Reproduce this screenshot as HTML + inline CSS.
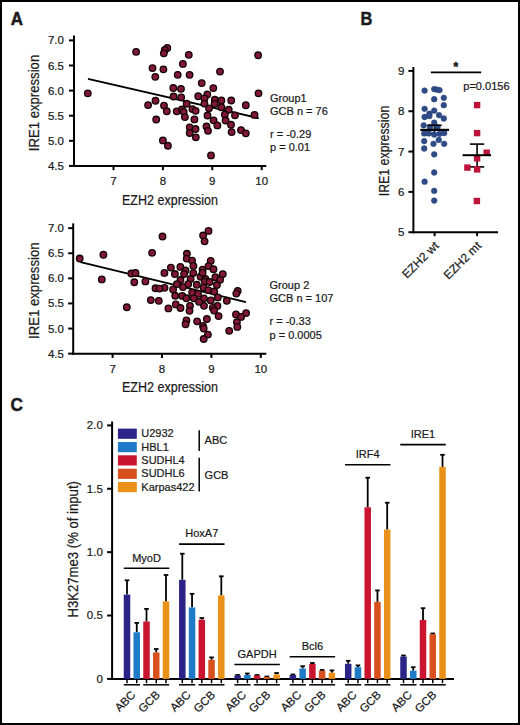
<!DOCTYPE html>
<html><head><meta charset="utf-8"><style>
html,body{margin:0;padding:0;background:#fff;}
svg{display:block;font-family:"Liberation Sans", sans-serif;}
text{stroke:#1a1a1a;stroke-width:0.22px;}
text[font-weight=bold]{stroke-width:0.5px;}
</style></head><body>
<svg width="520" height="725" viewBox="0 0 520 725">
<rect x="0" y="0" width="520" height="725" fill="#fff"/>
<text x="10.8" y="25.2" font-size="18" text-anchor="start" font-weight="bold" fill="#1a1a1a" textLength="12.2" lengthAdjust="spacingAndGlyphs" >A</text>
<text x="360.6" y="25.2" font-size="18" text-anchor="start" font-weight="bold" fill="#1a1a1a" textLength="11.8" lengthAdjust="spacingAndGlyphs" >B</text>
<text x="10.6" y="411" font-size="18" text-anchor="start" font-weight="bold" fill="#1a1a1a" textLength="12.4" lengthAdjust="spacingAndGlyphs" >C</text>
<line x1="74.00" y1="35.60" x2="74.00" y2="166.90" stroke="#000" stroke-width="2.0"/>
<line x1="69.00" y1="40.40" x2="74.00" y2="40.40" stroke="#000" stroke-width="2.0"/>
<text x="63.9" y="44.4" font-size="11.5" text-anchor="end" font-weight="normal" fill="#1a1a1a" >7.0</text>
<line x1="69.00" y1="65.50" x2="74.00" y2="65.50" stroke="#000" stroke-width="2.0"/>
<text x="63.9" y="69.5" font-size="11.5" text-anchor="end" font-weight="normal" fill="#1a1a1a" >6.5</text>
<line x1="69.00" y1="90.60" x2="74.00" y2="90.60" stroke="#000" stroke-width="2.0"/>
<text x="63.9" y="94.6" font-size="11.5" text-anchor="end" font-weight="normal" fill="#1a1a1a" >6.0</text>
<line x1="69.00" y1="115.70" x2="74.00" y2="115.70" stroke="#000" stroke-width="2.0"/>
<text x="63.9" y="119.7" font-size="11.5" text-anchor="end" font-weight="normal" fill="#1a1a1a" >5.5</text>
<line x1="69.00" y1="140.80" x2="74.00" y2="140.80" stroke="#000" stroke-width="2.0"/>
<text x="63.9" y="144.8" font-size="11.5" text-anchor="end" font-weight="normal" fill="#1a1a1a" >5.0</text>
<line x1="69.00" y1="165.90" x2="74.00" y2="165.90" stroke="#000" stroke-width="2.0"/>
<text x="63.9" y="169.9" font-size="11.5" text-anchor="end" font-weight="normal" fill="#1a1a1a" >4.5</text>
<line x1="73.00" y1="165.90" x2="266.30" y2="165.90" stroke="#000" stroke-width="2.0"/>
<line x1="113.50" y1="165.90" x2="113.50" y2="170.20" stroke="#000" stroke-width="2.0"/>
<text x="113.5" y="184.8" font-size="11.5" text-anchor="middle" font-weight="normal" fill="#1a1a1a" >7</text>
<line x1="162.90" y1="165.90" x2="162.90" y2="170.20" stroke="#000" stroke-width="2.0"/>
<text x="162.9" y="184.8" font-size="11.5" text-anchor="middle" font-weight="normal" fill="#1a1a1a" >8</text>
<line x1="212.30" y1="165.90" x2="212.30" y2="170.20" stroke="#000" stroke-width="2.0"/>
<text x="212.3" y="184.8" font-size="11.5" text-anchor="middle" font-weight="normal" fill="#1a1a1a" >9</text>
<line x1="261.70" y1="165.90" x2="261.70" y2="170.20" stroke="#000" stroke-width="2.0"/>
<text x="261.7" y="184.8" font-size="11.5" text-anchor="middle" font-weight="normal" fill="#1a1a1a" >10</text>
<text x="170" y="204.6" font-size="14" text-anchor="middle" font-weight="normal" fill="#1a1a1a" textLength="96" lengthAdjust="spacingAndGlyphs" >EZH2 expression</text>
<text transform="translate(39.30,103.00) rotate(-90)" font-size="14" text-anchor="middle" fill="#1a1a1a" textLength="96.5" lengthAdjust="spacingAndGlyphs">IRE1 expression</text>
<line x1="88.00" y1="78.90" x2="258.70" y2="118.20" stroke="#000" stroke-width="2"/>
<circle cx="87.8" cy="93.3" r="3.25" fill="#821739" stroke="#150508" stroke-width="1.35"/>
<circle cx="136.1" cy="51.8" r="3.25" fill="#821739" stroke="#150508" stroke-width="1.35"/>
<circle cx="167.3" cy="47.9" r="3.25" fill="#821739" stroke="#150508" stroke-width="1.35"/>
<circle cx="164.8" cy="50.0" r="3.25" fill="#821739" stroke="#150508" stroke-width="1.35"/>
<circle cx="163.8" cy="53.3" r="3.25" fill="#821739" stroke="#150508" stroke-width="1.35"/>
<circle cx="152.5" cy="68.1" r="3.25" fill="#821739" stroke="#150508" stroke-width="1.35"/>
<circle cx="163.4" cy="69.3" r="3.25" fill="#821739" stroke="#150508" stroke-width="1.35"/>
<circle cx="155.3" cy="76.8" r="3.25" fill="#821739" stroke="#150508" stroke-width="1.35"/>
<circle cx="188.8" cy="54.8" r="3.25" fill="#821739" stroke="#150508" stroke-width="1.35"/>
<circle cx="258.1" cy="55.2" r="3.25" fill="#821739" stroke="#150508" stroke-width="1.35"/>
<circle cx="182.9" cy="63.9" r="3.25" fill="#821739" stroke="#150508" stroke-width="1.35"/>
<circle cx="220.0" cy="71.6" r="3.25" fill="#821739" stroke="#150508" stroke-width="1.35"/>
<circle cx="177.7" cy="74.8" r="3.25" fill="#821739" stroke="#150508" stroke-width="1.35"/>
<circle cx="189.6" cy="74.8" r="3.25" fill="#821739" stroke="#150508" stroke-width="1.35"/>
<circle cx="201.7" cy="83.1" r="3.25" fill="#821739" stroke="#150508" stroke-width="1.35"/>
<circle cx="173.3" cy="88.0" r="3.25" fill="#821739" stroke="#150508" stroke-width="1.35"/>
<circle cx="181.0" cy="88.8" r="3.25" fill="#821739" stroke="#150508" stroke-width="1.35"/>
<circle cx="213.3" cy="88.1" r="3.25" fill="#821739" stroke="#150508" stroke-width="1.35"/>
<circle cx="258.5" cy="93.3" r="3.25" fill="#821739" stroke="#150508" stroke-width="1.35"/>
<circle cx="173.6" cy="96.5" r="3.25" fill="#821739" stroke="#150508" stroke-width="1.35"/>
<circle cx="181.2" cy="97.3" r="3.25" fill="#821739" stroke="#150508" stroke-width="1.35"/>
<circle cx="198.2" cy="96.2" r="3.25" fill="#821739" stroke="#150508" stroke-width="1.35"/>
<circle cx="207.3" cy="94.5" r="3.25" fill="#821739" stroke="#150508" stroke-width="1.35"/>
<circle cx="204.5" cy="98.4" r="3.25" fill="#821739" stroke="#150508" stroke-width="1.35"/>
<circle cx="214.8" cy="99.7" r="3.25" fill="#821739" stroke="#150508" stroke-width="1.35"/>
<circle cx="221.4" cy="100.5" r="3.25" fill="#821739" stroke="#150508" stroke-width="1.35"/>
<circle cx="231.2" cy="100.5" r="3.25" fill="#821739" stroke="#150508" stroke-width="1.35"/>
<circle cx="245.8" cy="105.2" r="3.25" fill="#821739" stroke="#150508" stroke-width="1.35"/>
<circle cx="186.7" cy="103.7" r="3.25" fill="#821739" stroke="#150508" stroke-width="1.35"/>
<circle cx="214.6" cy="103.8" r="3.25" fill="#821739" stroke="#150508" stroke-width="1.35"/>
<circle cx="164.0" cy="105.6" r="3.25" fill="#821739" stroke="#150508" stroke-width="1.35"/>
<circle cx="148.1" cy="105.1" r="3.25" fill="#821739" stroke="#150508" stroke-width="1.35"/>
<circle cx="155.5" cy="100.7" r="3.25" fill="#821739" stroke="#150508" stroke-width="1.35"/>
<circle cx="166.8" cy="111.2" r="3.25" fill="#821739" stroke="#150508" stroke-width="1.35"/>
<circle cx="176.7" cy="111.3" r="3.25" fill="#821739" stroke="#150508" stroke-width="1.35"/>
<circle cx="182.0" cy="109.5" r="3.25" fill="#821739" stroke="#150508" stroke-width="1.35"/>
<circle cx="183.7" cy="111.8" r="3.25" fill="#821739" stroke="#150508" stroke-width="1.35"/>
<circle cx="192.4" cy="109.1" r="3.25" fill="#821739" stroke="#150508" stroke-width="1.35"/>
<circle cx="195.6" cy="110.8" r="3.25" fill="#821739" stroke="#150508" stroke-width="1.35"/>
<circle cx="209.0" cy="108.3" r="3.25" fill="#821739" stroke="#150508" stroke-width="1.35"/>
<circle cx="221.4" cy="107.2" r="3.25" fill="#821739" stroke="#150508" stroke-width="1.35"/>
<circle cx="228.7" cy="109.7" r="3.25" fill="#821739" stroke="#150508" stroke-width="1.35"/>
<circle cx="184.9" cy="117.1" r="3.25" fill="#821739" stroke="#150508" stroke-width="1.35"/>
<circle cx="194.4" cy="119.4" r="3.25" fill="#821739" stroke="#150508" stroke-width="1.35"/>
<circle cx="207.5" cy="115.5" r="3.25" fill="#821739" stroke="#150508" stroke-width="1.35"/>
<circle cx="224.8" cy="114.6" r="3.25" fill="#821739" stroke="#150508" stroke-width="1.35"/>
<circle cx="235.0" cy="115.3" r="3.25" fill="#821739" stroke="#150508" stroke-width="1.35"/>
<circle cx="254.5" cy="114.9" r="3.25" fill="#821739" stroke="#150508" stroke-width="1.35"/>
<circle cx="213.6" cy="120.3" r="3.25" fill="#821739" stroke="#150508" stroke-width="1.35"/>
<circle cx="225.6" cy="120.5" r="3.25" fill="#821739" stroke="#150508" stroke-width="1.35"/>
<circle cx="156.2" cy="119.5" r="3.25" fill="#821739" stroke="#150508" stroke-width="1.35"/>
<circle cx="189.7" cy="127.3" r="3.25" fill="#821739" stroke="#150508" stroke-width="1.35"/>
<circle cx="195.5" cy="129.0" r="3.25" fill="#821739" stroke="#150508" stroke-width="1.35"/>
<circle cx="189.7" cy="133.0" r="3.25" fill="#821739" stroke="#150508" stroke-width="1.35"/>
<circle cx="195.8" cy="137.3" r="3.25" fill="#821739" stroke="#150508" stroke-width="1.35"/>
<circle cx="206.5" cy="126.5" r="3.25" fill="#821739" stroke="#150508" stroke-width="1.35"/>
<circle cx="208.0" cy="130.8" r="3.25" fill="#821739" stroke="#150508" stroke-width="1.35"/>
<circle cx="217.4" cy="125.4" r="3.25" fill="#821739" stroke="#150508" stroke-width="1.35"/>
<circle cx="231.0" cy="124.7" r="3.25" fill="#821739" stroke="#150508" stroke-width="1.35"/>
<circle cx="231.6" cy="132.1" r="3.25" fill="#821739" stroke="#150508" stroke-width="1.35"/>
<circle cx="241.0" cy="130.1" r="3.25" fill="#821739" stroke="#150508" stroke-width="1.35"/>
<circle cx="245.8" cy="133.3" r="3.25" fill="#821739" stroke="#150508" stroke-width="1.35"/>
<circle cx="162.9" cy="140.4" r="3.25" fill="#821739" stroke="#150508" stroke-width="1.35"/>
<circle cx="167.9" cy="145.7" r="3.25" fill="#821739" stroke="#150508" stroke-width="1.35"/>
<circle cx="211.0" cy="155.4" r="3.25" fill="#821739" stroke="#150508" stroke-width="1.35"/>
<circle cx="204.4" cy="103.6" r="3.25" fill="#821739" stroke="#150508" stroke-width="1.35"/>
<line x1="73.20" y1="223.35" x2="73.20" y2="354.65" stroke="#000" stroke-width="2.0"/>
<line x1="68.20" y1="228.15" x2="73.20" y2="228.15" stroke="#000" stroke-width="2.0"/>
<text x="63.9" y="232.1" font-size="11.5" text-anchor="end" font-weight="normal" fill="#1a1a1a" >7.0</text>
<line x1="68.20" y1="253.25" x2="73.20" y2="253.25" stroke="#000" stroke-width="2.0"/>
<text x="63.9" y="257.2" font-size="11.5" text-anchor="end" font-weight="normal" fill="#1a1a1a" >6.5</text>
<line x1="68.20" y1="278.35" x2="73.20" y2="278.35" stroke="#000" stroke-width="2.0"/>
<text x="63.9" y="282.3" font-size="11.5" text-anchor="end" font-weight="normal" fill="#1a1a1a" >6.0</text>
<line x1="68.20" y1="303.45" x2="73.20" y2="303.45" stroke="#000" stroke-width="2.0"/>
<text x="63.9" y="307.4" font-size="11.5" text-anchor="end" font-weight="normal" fill="#1a1a1a" >5.5</text>
<line x1="68.20" y1="328.55" x2="73.20" y2="328.55" stroke="#000" stroke-width="2.0"/>
<text x="63.9" y="332.5" font-size="11.5" text-anchor="end" font-weight="normal" fill="#1a1a1a" >5.0</text>
<line x1="68.20" y1="353.65" x2="73.20" y2="353.65" stroke="#000" stroke-width="2.0"/>
<text x="63.9" y="357.6" font-size="11.5" text-anchor="end" font-weight="normal" fill="#1a1a1a" >4.5</text>
<line x1="72.20" y1="353.65" x2="266.30" y2="353.65" stroke="#000" stroke-width="2.0"/>
<line x1="112.60" y1="353.65" x2="112.60" y2="357.95" stroke="#000" stroke-width="2.0"/>
<text x="112.6" y="372.5" font-size="11.5" text-anchor="middle" font-weight="normal" fill="#1a1a1a" >7</text>
<line x1="162.00" y1="353.65" x2="162.00" y2="357.95" stroke="#000" stroke-width="2.0"/>
<text x="162.0" y="372.5" font-size="11.5" text-anchor="middle" font-weight="normal" fill="#1a1a1a" >8</text>
<line x1="211.40" y1="353.65" x2="211.40" y2="357.95" stroke="#000" stroke-width="2.0"/>
<text x="211.4" y="372.5" font-size="11.5" text-anchor="middle" font-weight="normal" fill="#1a1a1a" >9</text>
<line x1="260.80" y1="353.65" x2="260.80" y2="357.95" stroke="#000" stroke-width="2.0"/>
<text x="260.8" y="372.5" font-size="11.5" text-anchor="middle" font-weight="normal" fill="#1a1a1a" >10</text>
<text x="170" y="392.3" font-size="14" text-anchor="middle" font-weight="normal" fill="#1a1a1a" textLength="96" lengthAdjust="spacingAndGlyphs" >EZH2 expression</text>
<text transform="translate(39.30,290.70) rotate(-90)" font-size="14" text-anchor="middle" fill="#1a1a1a" textLength="96.5" lengthAdjust="spacingAndGlyphs">IRE1 expression</text>
<line x1="80.50" y1="262.10" x2="246.00" y2="302.10" stroke="#000" stroke-width="2"/>
<circle cx="79.7" cy="258.5" r="3.25" fill="#821739" stroke="#150508" stroke-width="1.35"/>
<circle cx="103.4" cy="254.7" r="3.25" fill="#821739" stroke="#150508" stroke-width="1.35"/>
<circle cx="162.5" cy="236.5" r="3.25" fill="#821739" stroke="#150508" stroke-width="1.35"/>
<circle cx="152.1" cy="252.8" r="3.25" fill="#821739" stroke="#150508" stroke-width="1.35"/>
<circle cx="101.8" cy="279.4" r="3.25" fill="#821739" stroke="#150508" stroke-width="1.35"/>
<circle cx="131.3" cy="273.5" r="3.25" fill="#821739" stroke="#150508" stroke-width="1.35"/>
<circle cx="135.5" cy="273.0" r="3.25" fill="#821739" stroke="#150508" stroke-width="1.35"/>
<circle cx="134.3" cy="282.2" r="3.25" fill="#821739" stroke="#150508" stroke-width="1.35"/>
<circle cx="145.4" cy="281.4" r="3.25" fill="#821739" stroke="#150508" stroke-width="1.35"/>
<circle cx="164.4" cy="272.9" r="3.25" fill="#821739" stroke="#150508" stroke-width="1.35"/>
<circle cx="170.9" cy="267.6" r="3.25" fill="#821739" stroke="#150508" stroke-width="1.35"/>
<circle cx="155.5" cy="288.2" r="3.25" fill="#821739" stroke="#150508" stroke-width="1.35"/>
<circle cx="164.5" cy="287.8" r="3.25" fill="#821739" stroke="#150508" stroke-width="1.35"/>
<circle cx="208.5" cy="230.9" r="3.25" fill="#821739" stroke="#150508" stroke-width="1.35"/>
<circle cx="203.1" cy="235.5" r="3.25" fill="#821739" stroke="#150508" stroke-width="1.35"/>
<circle cx="204.6" cy="241.3" r="3.25" fill="#821739" stroke="#150508" stroke-width="1.35"/>
<circle cx="186.9" cy="253.7" r="3.25" fill="#821739" stroke="#150508" stroke-width="1.35"/>
<circle cx="186.7" cy="258.6" r="3.25" fill="#821739" stroke="#150508" stroke-width="1.35"/>
<circle cx="192.1" cy="260.6" r="3.25" fill="#821739" stroke="#150508" stroke-width="1.35"/>
<circle cx="193.4" cy="265.9" r="3.25" fill="#821739" stroke="#150508" stroke-width="1.35"/>
<circle cx="210.7" cy="260.9" r="3.25" fill="#821739" stroke="#150508" stroke-width="1.35"/>
<circle cx="208.5" cy="266.1" r="3.25" fill="#821739" stroke="#150508" stroke-width="1.35"/>
<circle cx="213.5" cy="269.2" r="3.25" fill="#821739" stroke="#150508" stroke-width="1.35"/>
<circle cx="180.4" cy="266.9" r="3.25" fill="#821739" stroke="#150508" stroke-width="1.35"/>
<circle cx="174.9" cy="274.0" r="3.25" fill="#821739" stroke="#150508" stroke-width="1.35"/>
<circle cx="185.5" cy="270.5" r="3.25" fill="#821739" stroke="#150508" stroke-width="1.35"/>
<circle cx="184.1" cy="274.1" r="3.25" fill="#821739" stroke="#150508" stroke-width="1.35"/>
<circle cx="193.3" cy="273.1" r="3.25" fill="#821739" stroke="#150508" stroke-width="1.35"/>
<circle cx="202.6" cy="269.6" r="3.25" fill="#821739" stroke="#150508" stroke-width="1.35"/>
<circle cx="200.6" cy="276.7" r="3.25" fill="#821739" stroke="#150508" stroke-width="1.35"/>
<circle cx="222.8" cy="274.1" r="3.25" fill="#821739" stroke="#150508" stroke-width="1.35"/>
<circle cx="215.4" cy="277.2" r="3.25" fill="#821739" stroke="#150508" stroke-width="1.35"/>
<circle cx="180.5" cy="280.0" r="3.25" fill="#821739" stroke="#150508" stroke-width="1.35"/>
<circle cx="190.6" cy="279.0" r="3.25" fill="#821739" stroke="#150508" stroke-width="1.35"/>
<circle cx="205.4" cy="278.9" r="3.25" fill="#821739" stroke="#150508" stroke-width="1.35"/>
<circle cx="220.1" cy="279.7" r="3.25" fill="#821739" stroke="#150508" stroke-width="1.35"/>
<circle cx="204.7" cy="281.5" r="3.25" fill="#821739" stroke="#150508" stroke-width="1.35"/>
<circle cx="209.6" cy="282.0" r="3.25" fill="#821739" stroke="#150508" stroke-width="1.35"/>
<circle cx="216.9" cy="285.0" r="3.25" fill="#821739" stroke="#150508" stroke-width="1.35"/>
<circle cx="203.6" cy="287.6" r="3.25" fill="#821739" stroke="#150508" stroke-width="1.35"/>
<circle cx="208.2" cy="290.1" r="3.25" fill="#821739" stroke="#150508" stroke-width="1.35"/>
<circle cx="214.2" cy="291.5" r="3.25" fill="#821739" stroke="#150508" stroke-width="1.35"/>
<circle cx="237.7" cy="291.0" r="3.25" fill="#821739" stroke="#150508" stroke-width="1.35"/>
<circle cx="236.3" cy="293.6" r="3.25" fill="#821739" stroke="#150508" stroke-width="1.35"/>
<circle cx="217.8" cy="297.4" r="3.25" fill="#821739" stroke="#150508" stroke-width="1.35"/>
<circle cx="203.9" cy="298.3" r="3.25" fill="#821739" stroke="#150508" stroke-width="1.35"/>
<circle cx="210.8" cy="300.4" r="3.25" fill="#821739" stroke="#150508" stroke-width="1.35"/>
<circle cx="226.8" cy="300.7" r="3.25" fill="#821739" stroke="#150508" stroke-width="1.35"/>
<circle cx="217.4" cy="305.9" r="3.25" fill="#821739" stroke="#150508" stroke-width="1.35"/>
<circle cx="204.0" cy="305.8" r="3.25" fill="#821739" stroke="#150508" stroke-width="1.35"/>
<circle cx="212.8" cy="307.8" r="3.25" fill="#821739" stroke="#150508" stroke-width="1.35"/>
<circle cx="214.1" cy="310.6" r="3.25" fill="#821739" stroke="#150508" stroke-width="1.35"/>
<circle cx="218.6" cy="316.1" r="3.25" fill="#821739" stroke="#150508" stroke-width="1.35"/>
<circle cx="206.9" cy="319.0" r="3.25" fill="#821739" stroke="#150508" stroke-width="1.35"/>
<circle cx="236.0" cy="314.4" r="3.25" fill="#821739" stroke="#150508" stroke-width="1.35"/>
<circle cx="241.1" cy="316.9" r="3.25" fill="#821739" stroke="#150508" stroke-width="1.35"/>
<circle cx="246.1" cy="313.1" r="3.25" fill="#821739" stroke="#150508" stroke-width="1.35"/>
<circle cx="202.6" cy="272.7" r="3.25" fill="#821739" stroke="#150508" stroke-width="1.35"/>
<circle cx="188.2" cy="284.1" r="3.25" fill="#821739" stroke="#150508" stroke-width="1.35"/>
<circle cx="196.8" cy="284.7" r="3.25" fill="#821739" stroke="#150508" stroke-width="1.35"/>
<circle cx="159.5" cy="288.6" r="3.25" fill="#821739" stroke="#150508" stroke-width="1.35"/>
<circle cx="173.1" cy="289.4" r="3.25" fill="#821739" stroke="#150508" stroke-width="1.35"/>
<circle cx="182.9" cy="287.1" r="3.25" fill="#821739" stroke="#150508" stroke-width="1.35"/>
<circle cx="192.1" cy="292.6" r="3.25" fill="#821739" stroke="#150508" stroke-width="1.35"/>
<circle cx="198.0" cy="293.9" r="3.25" fill="#821739" stroke="#150508" stroke-width="1.35"/>
<circle cx="175.2" cy="295.7" r="3.25" fill="#821739" stroke="#150508" stroke-width="1.35"/>
<circle cx="182.3" cy="295.9" r="3.25" fill="#821739" stroke="#150508" stroke-width="1.35"/>
<circle cx="186.4" cy="298.2" r="3.25" fill="#821739" stroke="#150508" stroke-width="1.35"/>
<circle cx="193.8" cy="298.3" r="3.25" fill="#821739" stroke="#150508" stroke-width="1.35"/>
<circle cx="150.8" cy="300.1" r="3.25" fill="#821739" stroke="#150508" stroke-width="1.35"/>
<circle cx="158.8" cy="300.8" r="3.25" fill="#821739" stroke="#150508" stroke-width="1.35"/>
<circle cx="175.8" cy="304.4" r="3.25" fill="#821739" stroke="#150508" stroke-width="1.35"/>
<circle cx="180.5" cy="308.0" r="3.25" fill="#821739" stroke="#150508" stroke-width="1.35"/>
<circle cx="190.0" cy="305.8" r="3.25" fill="#821739" stroke="#150508" stroke-width="1.35"/>
<circle cx="199.0" cy="301.8" r="3.25" fill="#821739" stroke="#150508" stroke-width="1.35"/>
<circle cx="168.4" cy="308.4" r="3.25" fill="#821739" stroke="#150508" stroke-width="1.35"/>
<circle cx="189.5" cy="310.8" r="3.25" fill="#821739" stroke="#150508" stroke-width="1.35"/>
<circle cx="186.4" cy="320.4" r="3.25" fill="#821739" stroke="#150508" stroke-width="1.35"/>
<circle cx="185.6" cy="324.2" r="3.25" fill="#821739" stroke="#150508" stroke-width="1.35"/>
<circle cx="197.1" cy="321.3" r="3.25" fill="#821739" stroke="#150508" stroke-width="1.35"/>
<circle cx="203.0" cy="325.9" r="3.25" fill="#821739" stroke="#150508" stroke-width="1.35"/>
<circle cx="203.7" cy="328.5" r="3.25" fill="#821739" stroke="#150508" stroke-width="1.35"/>
<circle cx="207.9" cy="334.6" r="3.25" fill="#821739" stroke="#150508" stroke-width="1.35"/>
<circle cx="203.7" cy="339.0" r="3.25" fill="#821739" stroke="#150508" stroke-width="1.35"/>
<circle cx="229.2" cy="330.8" r="3.25" fill="#821739" stroke="#150508" stroke-width="1.35"/>
<circle cx="236.9" cy="322.1" r="3.25" fill="#821739" stroke="#150508" stroke-width="1.35"/>
<circle cx="237.3" cy="326.9" r="3.25" fill="#821739" stroke="#150508" stroke-width="1.35"/>
<circle cx="176.9" cy="284.1" r="3.25" fill="#821739" stroke="#150508" stroke-width="1.35"/>
<circle cx="126.8" cy="307.2" r="3.25" fill="#821739" stroke="#150508" stroke-width="1.35"/>
<text x="270" y="101.7" font-size="11" text-anchor="start" font-weight="normal" fill="#1a1a1a" >Group1</text>
<text x="270" y="114.6" font-size="11" text-anchor="start" font-weight="normal" fill="#1a1a1a" >GCB n = 76</text>
<text x="270" y="137.7" font-size="11" text-anchor="start" font-weight="normal" fill="#1a1a1a" >r = -0.29</text>
<text x="270" y="150.6" font-size="11" text-anchor="start" font-weight="normal" fill="#1a1a1a" >p = 0.01</text>
<text x="269.5" y="288.8" font-size="11" text-anchor="start" font-weight="normal" fill="#1a1a1a" >Group 2</text>
<text x="269.5" y="301.9" font-size="11" text-anchor="start" font-weight="normal" fill="#1a1a1a" >GCB n = 107</text>
<text x="269.5" y="325.4" font-size="11" text-anchor="start" font-weight="normal" fill="#1a1a1a" >r = -0.33</text>
<text x="269.5" y="338.6" font-size="11" text-anchor="start" font-weight="normal" fill="#1a1a1a" >p = 0.0005</text>
<line x1="413.40" y1="67.00" x2="413.40" y2="233.20" stroke="#000" stroke-width="2.0"/>
<line x1="408.40" y1="70.90" x2="413.40" y2="70.90" stroke="#000" stroke-width="2.0"/>
<text x="404.5" y="74.9" font-size="11.5" text-anchor="end" font-weight="normal" fill="#1a1a1a" >9</text>
<line x1="408.40" y1="111.23" x2="413.40" y2="111.23" stroke="#000" stroke-width="2.0"/>
<text x="404.5" y="115.2" font-size="11.5" text-anchor="end" font-weight="normal" fill="#1a1a1a" >8</text>
<line x1="408.40" y1="151.56" x2="413.40" y2="151.56" stroke="#000" stroke-width="2.0"/>
<text x="404.5" y="155.6" font-size="11.5" text-anchor="end" font-weight="normal" fill="#1a1a1a" >7</text>
<line x1="408.40" y1="191.89" x2="413.40" y2="191.89" stroke="#000" stroke-width="2.0"/>
<text x="404.5" y="195.9" font-size="11.5" text-anchor="end" font-weight="normal" fill="#1a1a1a" >6</text>
<line x1="408.40" y1="232.22" x2="413.40" y2="232.22" stroke="#000" stroke-width="2.0"/>
<text x="404.5" y="236.2" font-size="11.5" text-anchor="end" font-weight="normal" fill="#1a1a1a" >5</text>
<line x1="412.40" y1="232.20" x2="498.00" y2="232.20" stroke="#000" stroke-width="2.0"/>
<line x1="434.60" y1="232.20" x2="434.60" y2="236.20" stroke="#000" stroke-width="2.0"/>
<line x1="477.10" y1="232.20" x2="477.10" y2="236.20" stroke="#000" stroke-width="2.0"/>
<text transform="translate(388.60,151.00) rotate(-90)" font-size="14" text-anchor="middle" fill="#1a1a1a" textLength="90.5" lengthAdjust="spacingAndGlyphs">IRE1 expression</text>
<text transform="translate(439.50,246.50) rotate(-45)" font-size="12" text-anchor="end" fill="#1a1a1a">EZH2 wt</text>
<text transform="translate(482.00,246.50) rotate(-45)" font-size="12" text-anchor="end" fill="#1a1a1a">EZH2 mt</text>
<line x1="430.90" y1="72.40" x2="481.20" y2="72.40" stroke="#000" stroke-width="1.8"/>
<text x="455.8" y="70.7" font-size="12" text-anchor="middle" font-weight="bold" fill="#1a1a1a" >*</text>
<text x="463.3" y="90.1" font-size="10.2" text-anchor="start" font-weight="normal" fill="#1a1a1a" textLength="46.3" lengthAdjust="spacingAndGlyphs" >p=0.0156</text>
<line x1="434.40" y1="125.40" x2="434.40" y2="133.80" stroke="#000" stroke-width="1.5"/>
<line x1="427.50" y1="133.80" x2="441.40" y2="133.80" stroke="#000" stroke-width="1.5"/>
<circle cx="424.6" cy="90.6" r="2.9" fill="#2f4b86" stroke="#26407a" stroke-width="0.4"/>
<circle cx="434.2" cy="89.1" r="2.9" fill="#2f4b86" stroke="#26407a" stroke-width="0.4"/>
<circle cx="436.8" cy="89.6" r="2.9" fill="#2f4b86" stroke="#26407a" stroke-width="0.4"/>
<circle cx="439.5" cy="90.1" r="2.9" fill="#2f4b86" stroke="#26407a" stroke-width="0.4"/>
<circle cx="434.2" cy="99.2" r="2.9" fill="#2f4b86" stroke="#26407a" stroke-width="0.4"/>
<circle cx="443.8" cy="97.8" r="2.9" fill="#2f4b86" stroke="#26407a" stroke-width="0.4"/>
<circle cx="443.8" cy="105.2" r="2.9" fill="#2f4b86" stroke="#26407a" stroke-width="0.4"/>
<circle cx="424.6" cy="108.8" r="2.9" fill="#2f4b86" stroke="#26407a" stroke-width="0.4"/>
<circle cx="434.2" cy="110.6" r="2.9" fill="#2f4b86" stroke="#26407a" stroke-width="0.4"/>
<circle cx="429.4" cy="113.7" r="2.9" fill="#2f4b86" stroke="#26407a" stroke-width="0.4"/>
<circle cx="424.6" cy="117" r="2.9" fill="#2f4b86" stroke="#26407a" stroke-width="0.4"/>
<circle cx="439" cy="115.1" r="2.9" fill="#2f4b86" stroke="#26407a" stroke-width="0.4"/>
<circle cx="443.8" cy="118.5" r="2.9" fill="#2f4b86" stroke="#26407a" stroke-width="0.4"/>
<circle cx="429.4" cy="116" r="2.9" fill="#2f4b86" stroke="#26407a" stroke-width="0.4"/>
<circle cx="434.2" cy="122.6" r="2.9" fill="#2f4b86" stroke="#26407a" stroke-width="0.4"/>
<circle cx="423.7" cy="125.3" r="2.9" fill="#2f4b86" stroke="#26407a" stroke-width="0.4"/>
<circle cx="430" cy="127.2" r="2.9" fill="#2f4b86" stroke="#26407a" stroke-width="0.4"/>
<circle cx="437.5" cy="127.2" r="2.9" fill="#2f4b86" stroke="#26407a" stroke-width="0.4"/>
<circle cx="424.2" cy="133.4" r="2.9" fill="#2f4b86" stroke="#26407a" stroke-width="0.4"/>
<circle cx="428.8" cy="133.4" r="2.9" fill="#2f4b86" stroke="#26407a" stroke-width="0.4"/>
<circle cx="434.2" cy="134.5" r="2.9" fill="#2f4b86" stroke="#26407a" stroke-width="0.4"/>
<circle cx="439.6" cy="133.8" r="2.9" fill="#2f4b86" stroke="#26407a" stroke-width="0.4"/>
<circle cx="444.2" cy="133" r="2.9" fill="#2f4b86" stroke="#26407a" stroke-width="0.4"/>
<circle cx="424.2" cy="141.1" r="2.9" fill="#2f4b86" stroke="#26407a" stroke-width="0.4"/>
<circle cx="433.5" cy="143.8" r="2.9" fill="#2f4b86" stroke="#26407a" stroke-width="0.4"/>
<circle cx="438.8" cy="139.9" r="2.9" fill="#2f4b86" stroke="#26407a" stroke-width="0.4"/>
<circle cx="444.2" cy="143.8" r="2.9" fill="#2f4b86" stroke="#26407a" stroke-width="0.4"/>
<circle cx="424.2" cy="148.5" r="2.9" fill="#2f4b86" stroke="#26407a" stroke-width="0.4"/>
<circle cx="434.2" cy="154.3" r="2.9" fill="#2f4b86" stroke="#26407a" stroke-width="0.4"/>
<circle cx="434.2" cy="172.5" r="2.9" fill="#2f4b86" stroke="#26407a" stroke-width="0.4"/>
<circle cx="424.6" cy="181.7" r="2.9" fill="#2f4b86" stroke="#26407a" stroke-width="0.4"/>
<circle cx="434.2" cy="190.8" r="2.9" fill="#2f4b86" stroke="#26407a" stroke-width="0.4"/>
<circle cx="434.2" cy="200.6" r="2.9" fill="#2f4b86" stroke="#26407a" stroke-width="0.4"/>
<line x1="469.90" y1="144.10" x2="484.20" y2="144.10" stroke="#000" stroke-width="1.6"/>
<line x1="477.10" y1="144.10" x2="477.10" y2="166.90" stroke="#000" stroke-width="1.6"/>
<line x1="469.90" y1="166.90" x2="484.20" y2="166.90" stroke="#000" stroke-width="1.6"/>
<rect x="473.90" y="101.90" width="6.4" height="6.4" fill="#bd1239"/>
<rect x="473.90" y="129.90" width="6.4" height="6.4" fill="#bd1239"/>
<rect x="483.50" y="149.50" width="6.4" height="6.4" fill="#bd1239"/>
<rect x="473.90" y="155.10" width="6.4" height="6.4" fill="#bd1239"/>
<rect x="464.20" y="164.40" width="6.4" height="6.4" fill="#bd1239"/>
<rect x="473.90" y="166.20" width="6.4" height="6.4" fill="#bd1239"/>
<rect x="473.70" y="197.80" width="6.4" height="6.4" fill="#bd1239"/>
<line x1="427.30" y1="125.30" x2="441.70" y2="125.30" stroke="#000" stroke-width="1.6"/>
<line x1="420.30" y1="129.90" x2="449.00" y2="129.90" stroke="#000" stroke-width="2.2"/>
<line x1="462.60" y1="155.20" x2="491.10" y2="155.20" stroke="#000" stroke-width="2"/>
<line x1="112.10" y1="421.40" x2="112.10" y2="679.90" stroke="#000" stroke-width="2.0"/>
<line x1="107.10" y1="425.40" x2="112.10" y2="425.40" stroke="#000" stroke-width="2.0"/>
<text x="102.8" y="429.2" font-size="11.5" text-anchor="end" font-weight="normal" fill="#1a1a1a" >2.0</text>
<line x1="107.10" y1="488.77" x2="112.10" y2="488.77" stroke="#000" stroke-width="2.0"/>
<text x="102.8" y="492.6" font-size="11.5" text-anchor="end" font-weight="normal" fill="#1a1a1a" >1.5</text>
<line x1="107.10" y1="552.15" x2="112.10" y2="552.15" stroke="#000" stroke-width="2.0"/>
<text x="102.8" y="555.9" font-size="11.5" text-anchor="end" font-weight="normal" fill="#1a1a1a" >1.0</text>
<line x1="107.10" y1="615.52" x2="112.10" y2="615.52" stroke="#000" stroke-width="2.0"/>
<text x="102.8" y="619.3" font-size="11.5" text-anchor="end" font-weight="normal" fill="#1a1a1a" >0.5</text>
<line x1="107.10" y1="678.90" x2="112.10" y2="678.90" stroke="#000" stroke-width="2.0"/>
<text x="102.8" y="682.7" font-size="11.5" text-anchor="end" font-weight="normal" fill="#1a1a1a" >0</text>
<line x1="111.10" y1="678.90" x2="454.00" y2="678.90" stroke="#000" stroke-width="2.0"/>
<text transform="translate(78.40,549.30) rotate(-90)" font-size="14" text-anchor="middle" fill="#1a1a1a" textLength="136.5" lengthAdjust="spacingAndGlyphs">H3K27me3 (% of input)</text>
<rect x="117.9" y="428.6" width="18.9" height="10.2" fill="#2b2385"/>
<text x="141.3" y="437.2" font-size="11" text-anchor="start" font-weight="normal" fill="#1a1a1a" >U2932</text>
<rect x="117.9" y="442.0" width="18.9" height="10.2" fill="#1f7bc8"/>
<text x="141.3" y="450.6" font-size="11" text-anchor="start" font-weight="normal" fill="#1a1a1a" >HBL1</text>
<rect x="117.9" y="455.3" width="18.9" height="10.2" fill="#cb1430"/>
<text x="141.3" y="463.9" font-size="11" text-anchor="start" font-weight="normal" fill="#1a1a1a" >SUDHL4</text>
<rect x="117.9" y="468.7" width="18.9" height="10.2" fill="#d9501f"/>
<text x="141.3" y="477.3" font-size="11" text-anchor="start" font-weight="normal" fill="#1a1a1a" >SUDHL6</text>
<rect x="117.9" y="482.0" width="18.9" height="10.2" fill="#e99118"/>
<text x="141.3" y="490.6" font-size="11" text-anchor="start" font-weight="normal" fill="#1a1a1a" >Karpas422</text>
<line x1="199.20" y1="430.20" x2="199.20" y2="451.00" stroke="#000" stroke-width="1.5"/>
<line x1="199.20" y1="457.70" x2="199.20" y2="491.40" stroke="#000" stroke-width="1.5"/>
<text x="204.6" y="444.2" font-size="11" text-anchor="start" font-weight="normal" fill="#1a1a1a" >ABC</text>
<text x="204.6" y="479.2" font-size="11" text-anchor="start" font-weight="normal" fill="#1a1a1a" >GCB</text>
<line x1="127.00" y1="594.60" x2="127.00" y2="580.30" stroke="#000" stroke-width="1.8"/>
<line x1="124.70" y1="580.30" x2="129.30" y2="580.30" stroke="#000" stroke-width="1.8"/>
<rect x="123.75" y="594.6" width="6.5" height="84.30" fill="#2b2385"/>
<line x1="127.00" y1="678.90" x2="127.00" y2="683.20" stroke="#000" stroke-width="1.5"/>
<line x1="136.75" y1="632.30" x2="136.75" y2="622.90" stroke="#000" stroke-width="1.8"/>
<line x1="134.45" y1="622.90" x2="139.05" y2="622.90" stroke="#000" stroke-width="1.8"/>
<rect x="133.50" y="632.3" width="6.5" height="46.60" fill="#1f7bc8"/>
<line x1="136.75" y1="678.90" x2="136.75" y2="683.20" stroke="#000" stroke-width="1.5"/>
<line x1="146.50" y1="621.50" x2="146.50" y2="608.90" stroke="#000" stroke-width="1.8"/>
<line x1="144.20" y1="608.90" x2="148.80" y2="608.90" stroke="#000" stroke-width="1.8"/>
<rect x="143.25" y="621.5" width="6.5" height="57.40" fill="#cb1430"/>
<line x1="146.50" y1="678.90" x2="146.50" y2="683.20" stroke="#000" stroke-width="1.5"/>
<line x1="156.25" y1="652.50" x2="156.25" y2="649.00" stroke="#000" stroke-width="1.8"/>
<line x1="153.95" y1="649.00" x2="158.55" y2="649.00" stroke="#000" stroke-width="1.8"/>
<rect x="153.00" y="652.5" width="6.5" height="26.40" fill="#d9501f"/>
<line x1="156.25" y1="678.90" x2="156.25" y2="683.20" stroke="#000" stroke-width="1.5"/>
<line x1="166.00" y1="601.40" x2="166.00" y2="575.00" stroke="#000" stroke-width="1.8"/>
<line x1="163.70" y1="575.00" x2="168.30" y2="575.00" stroke="#000" stroke-width="1.8"/>
<rect x="162.75" y="601.4" width="6.5" height="77.50" fill="#e99118"/>
<line x1="166.00" y1="678.90" x2="166.00" y2="683.20" stroke="#000" stroke-width="1.5"/>
<line x1="123.75" y1="568.30" x2="169.25" y2="568.30" stroke="#000" stroke-width="1.6"/>
<text x="146.5" y="561.5" font-size="11" text-anchor="middle" font-weight="normal" fill="#1a1a1a" >MyoD</text>
<line x1="123.75" y1="684.80" x2="140.00" y2="684.80" stroke="#000" stroke-width="1.5"/>
<line x1="143.25" y1="684.80" x2="169.25" y2="684.80" stroke="#000" stroke-width="1.5"/>
<text transform="translate(136.18,695.60) rotate(-45)" font-size="11.5" text-anchor="end" fill="#1a1a1a">ABC</text>
<text transform="translate(160.55,695.60) rotate(-45)" font-size="11.5" text-anchor="end" fill="#1a1a1a">GCB</text>
<line x1="182.30" y1="579.80" x2="182.30" y2="553.70" stroke="#000" stroke-width="1.8"/>
<line x1="180.00" y1="553.70" x2="184.60" y2="553.70" stroke="#000" stroke-width="1.8"/>
<rect x="179.05" y="579.8" width="6.5" height="99.10" fill="#2b2385"/>
<line x1="182.30" y1="678.90" x2="182.30" y2="683.20" stroke="#000" stroke-width="1.5"/>
<line x1="192.05" y1="607.50" x2="192.05" y2="593.80" stroke="#000" stroke-width="1.8"/>
<line x1="189.75" y1="593.80" x2="194.35" y2="593.80" stroke="#000" stroke-width="1.8"/>
<rect x="188.80" y="607.5" width="6.5" height="71.40" fill="#1f7bc8"/>
<line x1="192.05" y1="678.90" x2="192.05" y2="683.20" stroke="#000" stroke-width="1.5"/>
<line x1="201.80" y1="619.70" x2="201.80" y2="618.00" stroke="#000" stroke-width="1.8"/>
<line x1="199.50" y1="618.00" x2="204.10" y2="618.00" stroke="#000" stroke-width="1.8"/>
<rect x="198.55" y="619.7" width="6.5" height="59.20" fill="#cb1430"/>
<line x1="201.80" y1="678.90" x2="201.80" y2="683.20" stroke="#000" stroke-width="1.5"/>
<line x1="211.55" y1="659.80" x2="211.55" y2="657.40" stroke="#000" stroke-width="1.8"/>
<line x1="209.25" y1="657.40" x2="213.85" y2="657.40" stroke="#000" stroke-width="1.8"/>
<rect x="208.30" y="659.8" width="6.5" height="19.10" fill="#d9501f"/>
<line x1="211.55" y1="678.90" x2="211.55" y2="683.20" stroke="#000" stroke-width="1.5"/>
<line x1="221.30" y1="595.40" x2="221.30" y2="576.30" stroke="#000" stroke-width="1.8"/>
<line x1="219.00" y1="576.30" x2="223.60" y2="576.30" stroke="#000" stroke-width="1.8"/>
<rect x="218.05" y="595.4" width="6.5" height="83.50" fill="#e99118"/>
<line x1="221.30" y1="678.90" x2="221.30" y2="683.20" stroke="#000" stroke-width="1.5"/>
<line x1="179.05" y1="544.10" x2="224.55" y2="544.10" stroke="#000" stroke-width="1.6"/>
<text x="201.8" y="537.3" font-size="11" text-anchor="middle" font-weight="normal" fill="#1a1a1a" >HoxA7</text>
<line x1="179.05" y1="684.80" x2="195.30" y2="684.80" stroke="#000" stroke-width="1.5"/>
<line x1="198.55" y1="684.80" x2="224.55" y2="684.80" stroke="#000" stroke-width="1.5"/>
<text transform="translate(191.48,695.60) rotate(-45)" font-size="11.5" text-anchor="end" fill="#1a1a1a">ABC</text>
<text transform="translate(215.85,695.60) rotate(-45)" font-size="11.5" text-anchor="end" fill="#1a1a1a">GCB</text>
<line x1="237.60" y1="675.50" x2="237.60" y2="675.00" stroke="#000" stroke-width="1.8"/>
<line x1="235.30" y1="675.00" x2="239.90" y2="675.00" stroke="#000" stroke-width="1.8"/>
<rect x="234.35" y="675.5" width="6.5" height="3.40" fill="#2b2385"/>
<line x1="237.60" y1="678.90" x2="237.60" y2="683.20" stroke="#000" stroke-width="1.5"/>
<line x1="247.35" y1="675.00" x2="247.35" y2="673.50" stroke="#000" stroke-width="1.8"/>
<line x1="245.05" y1="673.50" x2="249.65" y2="673.50" stroke="#000" stroke-width="1.8"/>
<rect x="244.10" y="675" width="6.5" height="3.90" fill="#1f7bc8"/>
<line x1="247.35" y1="678.90" x2="247.35" y2="683.20" stroke="#000" stroke-width="1.5"/>
<line x1="257.10" y1="675.50" x2="257.10" y2="675.00" stroke="#000" stroke-width="1.8"/>
<line x1="254.80" y1="675.00" x2="259.40" y2="675.00" stroke="#000" stroke-width="1.8"/>
<rect x="253.85" y="675.5" width="6.5" height="3.40" fill="#cb1430"/>
<line x1="257.10" y1="678.90" x2="257.10" y2="683.20" stroke="#000" stroke-width="1.5"/>
<line x1="266.85" y1="677.00" x2="266.85" y2="676.50" stroke="#000" stroke-width="1.8"/>
<line x1="264.55" y1="676.50" x2="269.15" y2="676.50" stroke="#000" stroke-width="1.8"/>
<rect x="263.60" y="677" width="6.5" height="1.90" fill="#d9501f"/>
<line x1="266.85" y1="678.90" x2="266.85" y2="683.20" stroke="#000" stroke-width="1.5"/>
<line x1="276.60" y1="674.50" x2="276.60" y2="673.00" stroke="#000" stroke-width="1.8"/>
<line x1="274.30" y1="673.00" x2="278.90" y2="673.00" stroke="#000" stroke-width="1.8"/>
<rect x="273.35" y="674.5" width="6.5" height="4.40" fill="#e99118"/>
<line x1="276.60" y1="678.90" x2="276.60" y2="683.20" stroke="#000" stroke-width="1.5"/>
<line x1="234.35" y1="664.50" x2="279.85" y2="664.50" stroke="#000" stroke-width="1.6"/>
<text x="257.1" y="657.7" font-size="11" text-anchor="middle" font-weight="normal" fill="#1a1a1a" >GAPDH</text>
<line x1="234.35" y1="684.80" x2="250.60" y2="684.80" stroke="#000" stroke-width="1.5"/>
<line x1="253.85" y1="684.80" x2="279.85" y2="684.80" stroke="#000" stroke-width="1.5"/>
<text transform="translate(246.78,695.60) rotate(-45)" font-size="11.5" text-anchor="end" fill="#1a1a1a">ABC</text>
<text transform="translate(271.15,695.60) rotate(-45)" font-size="11.5" text-anchor="end" fill="#1a1a1a">GCB</text>
<line x1="292.90" y1="675.00" x2="292.90" y2="674.50" stroke="#000" stroke-width="1.8"/>
<line x1="290.60" y1="674.50" x2="295.20" y2="674.50" stroke="#000" stroke-width="1.8"/>
<rect x="289.65" y="675" width="6.5" height="3.90" fill="#2b2385"/>
<line x1="292.90" y1="678.90" x2="292.90" y2="683.20" stroke="#000" stroke-width="1.5"/>
<line x1="302.65" y1="668.50" x2="302.65" y2="666.20" stroke="#000" stroke-width="1.8"/>
<line x1="300.35" y1="666.20" x2="304.95" y2="666.20" stroke="#000" stroke-width="1.8"/>
<rect x="299.40" y="668.5" width="6.5" height="10.40" fill="#1f7bc8"/>
<line x1="302.65" y1="678.90" x2="302.65" y2="683.20" stroke="#000" stroke-width="1.5"/>
<line x1="312.40" y1="664.00" x2="312.40" y2="663.00" stroke="#000" stroke-width="1.8"/>
<line x1="310.10" y1="663.00" x2="314.70" y2="663.00" stroke="#000" stroke-width="1.8"/>
<rect x="309.15" y="664" width="6.5" height="14.90" fill="#cb1430"/>
<line x1="312.40" y1="678.90" x2="312.40" y2="683.20" stroke="#000" stroke-width="1.5"/>
<line x1="322.15" y1="670.80" x2="322.15" y2="670.00" stroke="#000" stroke-width="1.8"/>
<line x1="319.85" y1="670.00" x2="324.45" y2="670.00" stroke="#000" stroke-width="1.8"/>
<rect x="318.90" y="670.8" width="6.5" height="8.10" fill="#d9501f"/>
<line x1="322.15" y1="678.90" x2="322.15" y2="683.20" stroke="#000" stroke-width="1.5"/>
<line x1="331.90" y1="672.70" x2="331.90" y2="670.40" stroke="#000" stroke-width="1.8"/>
<line x1="329.60" y1="670.40" x2="334.20" y2="670.40" stroke="#000" stroke-width="1.8"/>
<rect x="328.65" y="672.7" width="6.5" height="6.20" fill="#e99118"/>
<line x1="331.90" y1="678.90" x2="331.90" y2="683.20" stroke="#000" stroke-width="1.5"/>
<line x1="289.65" y1="656.70" x2="335.15" y2="656.70" stroke="#000" stroke-width="1.6"/>
<text x="312.4" y="649.9" font-size="11" text-anchor="middle" font-weight="normal" fill="#1a1a1a" >Bcl6</text>
<line x1="289.65" y1="684.80" x2="305.90" y2="684.80" stroke="#000" stroke-width="1.5"/>
<line x1="309.15" y1="684.80" x2="335.15" y2="684.80" stroke="#000" stroke-width="1.5"/>
<text transform="translate(302.07,695.60) rotate(-45)" font-size="11.5" text-anchor="end" fill="#1a1a1a">ABC</text>
<text transform="translate(326.45,695.60) rotate(-45)" font-size="11.5" text-anchor="end" fill="#1a1a1a">GCB</text>
<line x1="348.20" y1="663.80" x2="348.20" y2="660.80" stroke="#000" stroke-width="1.8"/>
<line x1="345.90" y1="660.80" x2="350.50" y2="660.80" stroke="#000" stroke-width="1.8"/>
<rect x="344.95" y="663.8" width="6.5" height="15.10" fill="#2b2385"/>
<line x1="348.20" y1="678.90" x2="348.20" y2="683.20" stroke="#000" stroke-width="1.5"/>
<line x1="357.95" y1="667.20" x2="357.95" y2="665.40" stroke="#000" stroke-width="1.8"/>
<line x1="355.65" y1="665.40" x2="360.25" y2="665.40" stroke="#000" stroke-width="1.8"/>
<rect x="354.70" y="667.2" width="6.5" height="11.70" fill="#1f7bc8"/>
<line x1="357.95" y1="678.90" x2="357.95" y2="683.20" stroke="#000" stroke-width="1.5"/>
<line x1="367.70" y1="507.30" x2="367.70" y2="477.70" stroke="#000" stroke-width="1.8"/>
<line x1="365.40" y1="477.70" x2="370.00" y2="477.70" stroke="#000" stroke-width="1.8"/>
<rect x="364.45" y="507.3" width="6.5" height="171.60" fill="#cb1430"/>
<line x1="367.70" y1="678.90" x2="367.70" y2="683.20" stroke="#000" stroke-width="1.5"/>
<line x1="377.45" y1="601.90" x2="377.45" y2="590.40" stroke="#000" stroke-width="1.8"/>
<line x1="375.15" y1="590.40" x2="379.75" y2="590.40" stroke="#000" stroke-width="1.8"/>
<rect x="374.20" y="601.9" width="6.5" height="77.00" fill="#d9501f"/>
<line x1="377.45" y1="678.90" x2="377.45" y2="683.20" stroke="#000" stroke-width="1.5"/>
<line x1="387.20" y1="529.60" x2="387.20" y2="502.70" stroke="#000" stroke-width="1.8"/>
<line x1="384.90" y1="502.70" x2="389.50" y2="502.70" stroke="#000" stroke-width="1.8"/>
<rect x="383.95" y="529.6" width="6.5" height="149.30" fill="#e99118"/>
<line x1="387.20" y1="678.90" x2="387.20" y2="683.20" stroke="#000" stroke-width="1.5"/>
<line x1="344.95" y1="464.80" x2="390.45" y2="464.80" stroke="#000" stroke-width="1.6"/>
<text x="367.7" y="458.0" font-size="11" text-anchor="middle" font-weight="normal" fill="#1a1a1a" >IRF4</text>
<line x1="344.95" y1="684.80" x2="361.20" y2="684.80" stroke="#000" stroke-width="1.5"/>
<line x1="364.45" y1="684.80" x2="390.45" y2="684.80" stroke="#000" stroke-width="1.5"/>
<text transform="translate(357.38,695.60) rotate(-45)" font-size="11.5" text-anchor="end" fill="#1a1a1a">ABC</text>
<text transform="translate(381.75,695.60) rotate(-45)" font-size="11.5" text-anchor="end" fill="#1a1a1a">GCB</text>
<line x1="403.50" y1="656.60" x2="403.50" y2="655.50" stroke="#000" stroke-width="1.8"/>
<line x1="401.20" y1="655.50" x2="405.80" y2="655.50" stroke="#000" stroke-width="1.8"/>
<rect x="400.25" y="656.6" width="6.5" height="22.30" fill="#2b2385"/>
<line x1="403.50" y1="678.90" x2="403.50" y2="683.20" stroke="#000" stroke-width="1.5"/>
<line x1="413.25" y1="670.70" x2="413.25" y2="667.20" stroke="#000" stroke-width="1.8"/>
<line x1="410.95" y1="667.20" x2="415.55" y2="667.20" stroke="#000" stroke-width="1.8"/>
<rect x="410.00" y="670.7" width="6.5" height="8.20" fill="#1f7bc8"/>
<line x1="413.25" y1="678.90" x2="413.25" y2="683.20" stroke="#000" stroke-width="1.5"/>
<line x1="423.00" y1="619.90" x2="423.00" y2="608.20" stroke="#000" stroke-width="1.8"/>
<line x1="420.70" y1="608.20" x2="425.30" y2="608.20" stroke="#000" stroke-width="1.8"/>
<rect x="419.75" y="619.9" width="6.5" height="59.00" fill="#cb1430"/>
<line x1="423.00" y1="678.90" x2="423.00" y2="683.20" stroke="#000" stroke-width="1.5"/>
<line x1="432.75" y1="634.20" x2="432.75" y2="633.50" stroke="#000" stroke-width="1.8"/>
<line x1="430.45" y1="633.50" x2="435.05" y2="633.50" stroke="#000" stroke-width="1.8"/>
<rect x="429.50" y="634.2" width="6.5" height="44.70" fill="#d9501f"/>
<line x1="432.75" y1="678.90" x2="432.75" y2="683.20" stroke="#000" stroke-width="1.5"/>
<line x1="442.50" y1="466.90" x2="442.50" y2="454.80" stroke="#000" stroke-width="1.8"/>
<line x1="440.20" y1="454.80" x2="444.80" y2="454.80" stroke="#000" stroke-width="1.8"/>
<rect x="439.25" y="466.9" width="6.5" height="212.00" fill="#e99118"/>
<line x1="442.50" y1="678.90" x2="442.50" y2="683.20" stroke="#000" stroke-width="1.5"/>
<line x1="400.25" y1="444.60" x2="445.75" y2="444.60" stroke="#000" stroke-width="1.6"/>
<text x="423.0" y="437.8" font-size="11" text-anchor="middle" font-weight="normal" fill="#1a1a1a" >IRE1</text>
<line x1="400.25" y1="684.80" x2="416.50" y2="684.80" stroke="#000" stroke-width="1.5"/>
<line x1="419.75" y1="684.80" x2="445.75" y2="684.80" stroke="#000" stroke-width="1.5"/>
<text transform="translate(412.68,695.60) rotate(-45)" font-size="11.5" text-anchor="end" fill="#1a1a1a">ABC</text>
<text transform="translate(437.05,695.60) rotate(-45)" font-size="11.5" text-anchor="end" fill="#1a1a1a">GCB</text>
<rect x="1" y="1" width="518" height="723" fill="none" stroke="#000" stroke-width="2"/>
</svg>
</body></html>
